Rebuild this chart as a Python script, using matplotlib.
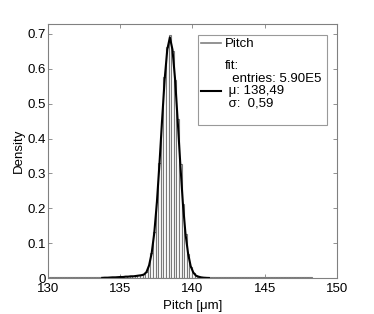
import matplotlib
matplotlib.use("Agg")
import matplotlib.pyplot as plt
from matplotlib.lines import Line2D

plt.rcParams['font.family'] = ['Liberation Sans', 'DejaVu Sans']

# ---- data ----
bin_start = 130.07
bin_width = 0.18
# density per bin (101 bins, 130.07 .. 148.25)
density = (
    [0.003] * 20 +                                    # k 0-19
    [0.003, 0.003, 0.003, 0.003, 0.003, 0.003,        # k 20-25
     0.0035, 0.004, 0.004, 0.005, 0.005, 0.006,       # k 26-31
     0.006, 0.007, 0.008, 0.009, 0.011, 0.018,        # k 32-37
     0.037, 0.072, 0.131, 0.218, 0.330, 0.452,        # k 38-43
     0.575, 0.661, 0.697, 0.652, 0.568, 0.455,        # k 44-49
     0.328, 0.212, 0.126, 0.069, 0.033, 0.015,        # k 50-55
     0.007, 0.004, 0.003, 0.003, 0.003, 0.003] +      # k 56-61
    [0.003] * 39                                      # k 62-100
)
# fit curve values at bin centres k = 20 .. 61
fit_k0 = 20
fit_values = [0.0005, 0.001, 0.001, 0.0015, 0.002, 0.002, 0.0025, 0.003,
              0.003, 0.004, 0.004, 0.005, 0.005, 0.006, 0.007, 0.008,
              0.010, 0.017, 0.036, 0.071, 0.129, 0.216, 0.328, 0.452,
              0.570, 0.655, 0.690, 0.655, 0.570, 0.452, 0.328, 0.214,
              0.127, 0.070, 0.034, 0.016, 0.007, 0.004, 0.002, 0.001,
              0.0005, 0.0002]

x_ticks = [130, 135, 140, 145, 150]
y_ticks = [0, 0.1, 0.2, 0.3, 0.4, 0.5, 0.6, 0.7]
y_tick_labels = ['0', '0.1', '0.2', '0.3', '0.4', '0.5', '0.6', '0.7']
legend_labels = ['Pitch', 'fit:\n  entries: 5.90E5 \n \u03bc: 138,49\n \u03c3:  0,59\n']

# ---- plot ----
fig = plt.figure(figsize=(3.74, 3.14), dpi=100)
ax = fig.add_axes([0.128, 0.1145, 0.773, 0.8095])

lefts = [bin_start + i * bin_width for i in range(len(density))]
ax.bar(lefts, density, width=bin_width, align='edge', facecolor='white',
       edgecolor='#7a7a7a', linewidth=0.8)

fit_x = [bin_start + (fit_k0 + i + 0.5) * bin_width for i in range(len(fit_values))]
ax.plot(fit_x, fit_values, color='black', linewidth=1.5)

ax.set_xlim(130, 150)
ax.set_ylim(0, 0.7287)
ax.set_xticks(x_ticks)
ax.set_yticks(y_ticks)
ax.set_yticklabels(y_tick_labels)
ax.tick_params(direction='in', length=3, width=0.6, color='#808080',
               top=True, right=True, labelsize=9.5, pad=1.5)
ax.tick_params(axis='x', pad=3.5)
for s in ax.spines.values():
    s.set_color('#808080')
    s.set_linewidth(0.8)

ax.set_xlabel('Pitch [\u03bcm]', fontsize=9.5, labelpad=3.5)
ax.set_ylabel('Density', fontsize=9.5, labelpad=2)

handles = [Line2D([], [], color='#808080', linewidth=1.2),
           Line2D([], [], color='black', linewidth=1.5)]
leg = ax.legend(handles, legend_labels, loc='upper right',
                bbox_to_anchor=(0.967, 0.955), fontsize=9.5, frameon=True,
                fancybox=False, edgecolor='#808080', handlelength=1.5,
                handletextpad=0.3, borderpad=0.2, labelspacing=0.75,
                borderaxespad=0)
leg.get_frame().set_linewidth(0.8)
for t in leg.get_texts():
    t.set_linespacing(1.05)

fig.savefig('out.png', dpi=100)
